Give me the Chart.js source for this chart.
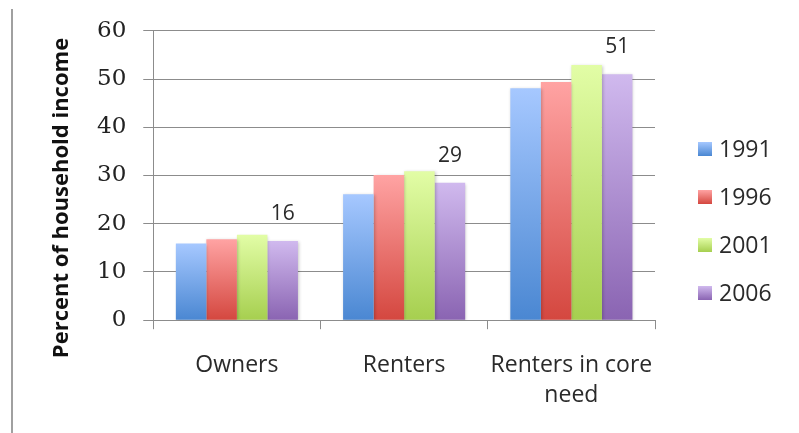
<!DOCTYPE html>
<html lang="en">

<head>
    <meta charset="UTF-8">
    <title>Percent of household income</title>
    <script src="https://cdn.jsdelivr.net/npm/chart.js"></script>
    <style>
        body {
            margin: 0;
            background: #ffffff;
        }
        .wrap {
            position: relative;
            width: 799px;
            height: 433px;
        }
        .side-line {
            position: absolute;
            left: 11px;
            top: 9px;
            width: 2px;
            height: 424px;
            background: #a0a0a0;
        }
    </style>
</head>

<body>
    <div class="wrap">
        <div class="side-line"></div>
        <canvas id="incomeChart" width="799" height="433"></canvas>
    </div>

    <script>
        var categories = ['Owners', 'Renters', ['Renters in core', 'need']];
        var years = ['1991', '1996', '2001', '2006'];
        var v1991 = [15.9, 26.1, 48.1];
        var v1996 = [16.8, 30.1, 49.4];
        var v2001 = [17.7, 30.9, 52.9];
        var v2006 = [16.4, 28.5, 51.0];
        var labels2006 = ['16', '29', '51'];
        var yTicks = [0, 10, 20, 30, 40, 50, 60];
        var yTitle = 'Percent of household income';

        // light top / dark bottom for each year
        var topColors = ['#a6c8ff', '#ffa3a3', '#e2fda6', '#d0b9ee'];
        var bottomColors = ['#4a87d2', '#d4473f', '#a6cf4f', '#8a64b2'];
        var midColors = ['#78a8e8', '#ea7572', '#c4e67b', '#ad8fd0'];

        function barGradient(i) {
            return function (c) {
                var chart = c.chart;
                if (!chart.chartArea || c.raw === undefined) return midColors[i];
                var y = chart.scales.y;
                var top = y.getPixelForValue(c.raw);
                var base = y.getPixelForValue(0);
                var g = chart.ctx.createLinearGradient(0, top, 0, base);
                g.addColorStop(0, topColors[i]);
                g.addColorStop(1, bottomColors[i]);
                return g;
            };
        }

        var series = [v1991, v1996, v2001, v2006];
        var datasets = series.map(function (vals, i) {
            return {
                label: years[i],
                data: vals,
                backgroundColor: barGradient(i),
                borderWidth: 0,
                categoryPercentage: 0.73,
                barPercentage: 1.0
            };
        });

        var shadowPlugin = {
            id: 'barShadow',
            beforeDatasetDraw: function (chart) {
                var ctx = chart.ctx;
                ctx.save();
                ctx.shadowColor = 'rgba(0,0,0,0.22)';
                ctx.shadowBlur = 3;
                ctx.shadowOffsetX = 1;
                ctx.shadowOffsetY = 1;
            },
            afterDatasetDraw: function (chart) {
                chart.ctx.restore();
            }
        };

        var valueLabels = {
            id: 'valueLabels',
            afterDatasetsDraw: function (chart) {
                var ctx = chart.ctx;
                var meta = chart.getDatasetMeta(3);
                ctx.save();
                ctx.font = '21px "Open Sans"';
                ctx.fillStyle = '#2a2a2a';
                ctx.textAlign = 'center';
                ctx.textBaseline = 'middle';
                meta.data.forEach(function (bar, i) {
                    ctx.fillText(labels2006[i], bar.x, bar.y - 27);
                });
                ctx.restore();
            }
        };

        // y title sits a bit lower than the plot centre in the original
        var sideTitle = {
            id: 'sideTitle',
            afterDraw: function (chart) {
                var ctx = chart.ctx;
                ctx.save();
                ctx.translate(62, 198);
                ctx.rotate(-Math.PI / 2);
                ctx.font = 'bold 22px "Open Sans"';
                ctx.fillStyle = '#111111';
                ctx.textAlign = 'center';
                ctx.textBaseline = 'middle';
                ctx.fillText(yTitle, 0, 0);
                ctx.restore();
            }
        };

        // legend drawn by hand so box / text spacing matches the original
        var sideLegend = {
            id: 'sideLegend',
            afterDraw: function (chart) {
                var ctx = chart.ctx;
                var x = chart.chartArea.right + 43;
                var y0 = 149;
                ctx.save();
                ctx.font = '23px "Open Sans"';
                ctx.textBaseline = 'middle';
                years.forEach(function (y, i) {
                    var cy = y0 + i * 48;
                    var g = ctx.createLinearGradient(0, cy - 7, 0, cy + 7);
                    g.addColorStop(0, topColors[i]);
                    g.addColorStop(1, bottomColors[i]);
                    ctx.fillStyle = g;
                    ctx.fillRect(x, cy - 7, 14, 14);
                    ctx.fillStyle = '#2a2a2a';
                    ctx.fillText(y, x + 21, cy + 1);
                });
                ctx.restore();
            }
        };

        var ctx = document.getElementById('incomeChart').getContext('2d');
        new Chart(ctx, {
            type: 'bar',
            data: {
                labels: categories,
                datasets: datasets
            },
            plugins: [shadowPlugin, valueLabels, sideTitle, sideLegend],
            options: {
                responsive: false,
                animation: false,
                layout: {
                    padding: { left: 80, top: 28.5, right: 144, bottom: 2 }
                },
                plugins: {
                    tooltip: { enabled: false },
                    legend: { display: false }
                },
                scales: {
                    x: {
                        grid: {
                            drawOnChartArea: false,
                            drawTicks: true,
                            tickLength: 9,
                            color: '#8c8c8c'
                        },
                        border: { color: '#8c8c8c' },
                        ticks: {
                            padding: 21,
                            color: '#2a2a2a',
                            autoSkip: false,
                            maxRotation: 0,
                            font: { family: 'Open Sans', size: 23, lineHeight: 1.3 }
                        }
                    },
                    y: {
                        min: 0,
                        max: 60,
                        afterBuildTicks: function (axis) {
                            axis.ticks = yTicks.map(function (v) { return { value: v }; });
                        },
                        grid: {
                            color: '#8c8c8c',
                            tickLength: 10
                        },
                        border: { color: '#8c8c8c' },
                        ticks: {
                            padding: 17,
                            color: '#222222',
                            font: { family: 'DejaVu Serif', size: 23 }
                        }
                    }
                }
            }
        });
    </script>
</body>

</html>
